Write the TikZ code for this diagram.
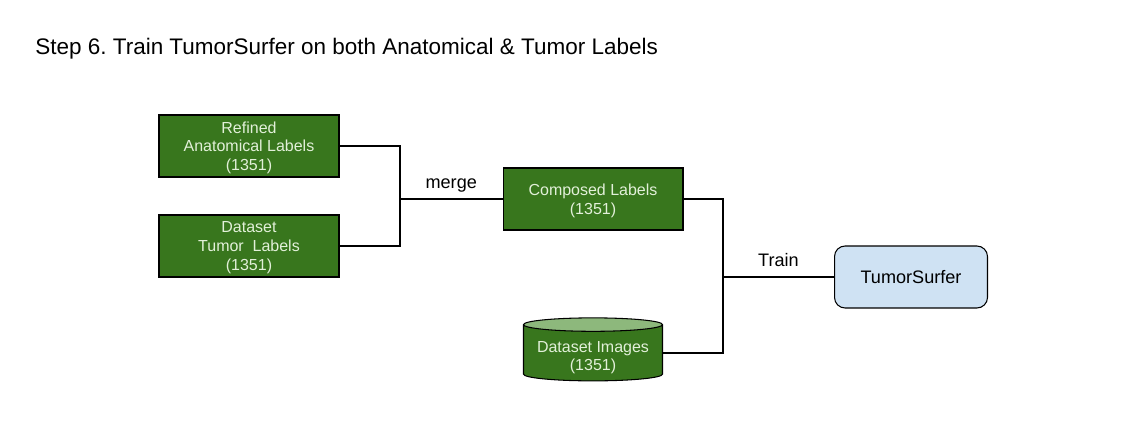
\documentclass[tikz,border=0pt]{standalone}
\usepackage{fontspec}
\setmainfont{Liberation Sans}
\usepackage{tikz}
\usetikzlibrary{positioning,shapes.geometric,calc}
\definecolor{labelgreen}{HTML}{38761D}
\definecolor{labeltext}{HTML}{E2F0D9}
\definecolor{toplight}{HTML}{8DB87C}
\definecolor{modelblue}{HTML}{CFE2F3}
\tikzset{
  labelbox/.style={draw, line width=0.6pt, fill=labelgreen, text=labeltext,
    minimum width=3.6cm, minimum height=1.24cm, align=center, inner sep=0pt,
    text depth=-2pt, font=\fontsize{9.1}{10.6}\selectfont},
  wire/.style={line width=0.6pt}
}

\begin{document}
\begin{tikzpicture}[x=0.02cm, y=0.02cm]
  \useasboundingbox (0,0) rectangle (1148,-425);

  \node[anchor=west, inner sep=0pt, font=\fontsize{12.8}{15}\selectfont] (title) at (35,-49)
    {\frenchspacing Step 6. Train TumorSurfer on both Anatomical \& Tumor Labels};

  \node[labelbox] (refined) at (249,-146) {Refined\\Anatomical Labels\\(1351)};
  \node[labelbox] (tumor) at (249,-246) {Dataset\\Tumor~ Labels\\(1351)};
  \node[labelbox] (composed) at (593,-199) {Composed Labels\\(1351)};

  \node[cylinder, shape border rotate=90, draw, line width=0.6pt, aspect=0.12,
        cylinder uses custom fill, cylinder body fill=labelgreen, cylinder end fill=toplight,
        minimum width=2.78cm, minimum height=1.06cm, inner sep=0pt, align=center,
        text=labeltext, font=\fontsize{9.1}{10.6}\selectfont] (images) at (593,-353)
        {\\[1pt]Dataset Images\\(1351)};

  \node[draw, line width=0.6pt, fill=modelblue, rounded corners=6pt,
        minimum width=3.06cm, minimum height=1.24cm,
        font=\fontsize{10.3}{12}\selectfont] (surfer) at (911,-277) {TumorSurfer};

  % Merge
  \coordinate (mj) at (400,-199);
  \draw[wire] (refined.east) -| (mj) |- (tumor.east);
  \draw[wire] (mj) -- node[above, font=\fontsize{10.3}{12}\selectfont] {merge} (composed.west);

  % Train
  \coordinate (tj) at (723,-277);
  \draw[wire] (composed.east) -| (tj) |- (images.east);
  \draw[wire] (tj) -- node[above=2pt, font=\fontsize{10.3}{12}\selectfont] {Train} (surfer.west);
\end{tikzpicture}
\end{document}
